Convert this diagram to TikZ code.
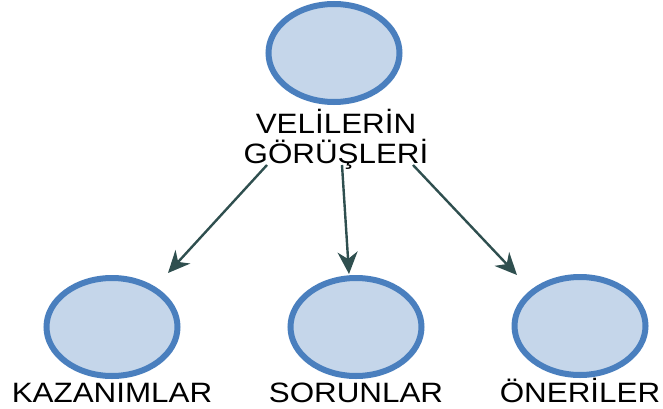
\documentclass[tikz,border=0pt]{standalone}
\usepackage{fontspec}
\setmainfont{Liberation Sans}[FakeStretch=1.12]
\usetikzlibrary{arrows.meta, shapes.geometric}
\definecolor{bubblefill}{RGB}{197,214,234}
\definecolor{bubbleline}{RGB}{74,127,190}
\definecolor{linkcol}{RGB}{47,79,79}

\begin{document}
\begin{tikzpicture}[x=1pt, y=-1pt,
  bubble/.style = {draw=bubbleline, fill=bubblefill, ellipse, line width=6pt, minimum width=131pt, minimum height=98pt},
  caption/.style = {font=\fontsize{28}{30}\selectfont, inner sep=0pt, anchor=base, align=center},
  link/.style = {draw=linkcol, line width=2.4pt, -{Stealth[length=22pt, width=20pt, inset=7pt]}}]
\useasboundingbox (0,0) rectangle (663,409);
\node[bubble] (v) at (334,53) {};
\node[bubble] (k) at (112,327) {};
\node[bubble] (s) at (356,327) {};
\node[bubble] (o) at (580,326) {};
\node[caption] (vt) at (336,163) {VELİLERİN\\GÖRÜŞLERİ};
\node[caption] (kt) at (112,402) {KAZANIMLAR};
\node[caption] (st) at (356,402) {SORUNLAR};
\node[caption] (ot) at (580,402) {ÖNERİLER};
\coordinate (a1) at (267,165);
\coordinate (a2) at (342,165);
\coordinate (a3) at (413,165);
\coordinate (b1) at (168,273);
\coordinate (b2) at (349,274);
\coordinate (b3) at (517,275);
\draw[link] (a1) -- (b1);
\draw[link] (a2) -- (b2);
\draw[link] (a3) -- (b3);
\end{tikzpicture}
\end{document}
